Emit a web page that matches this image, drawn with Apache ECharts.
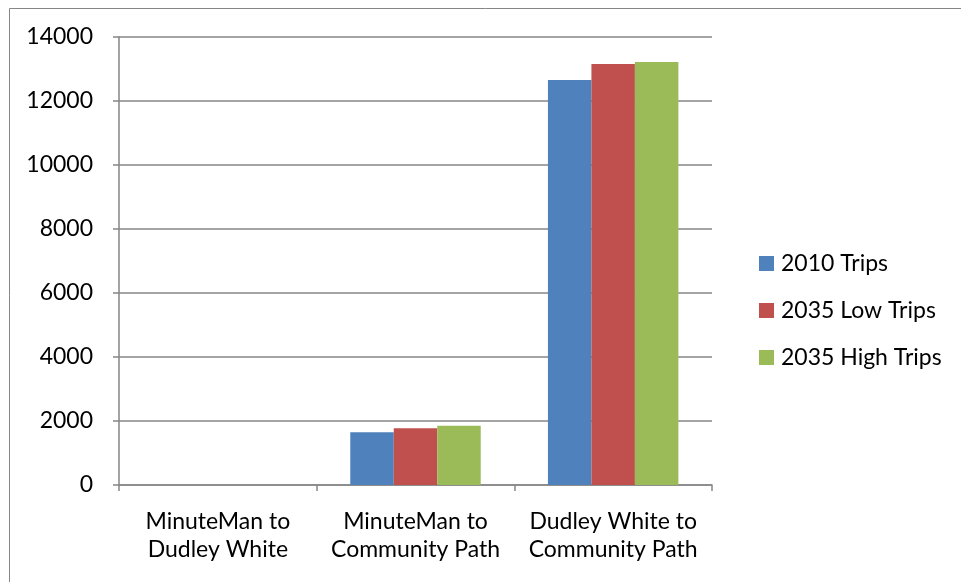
<!DOCTYPE html>
<html>
<head>
<meta charset="utf-8">
<script src="https://cdn.jsdelivr.net/npm/echarts@6/dist/echarts.min.js"></script>
<style>
  html, body { margin: 0; padding: 0; background: #fff; }
  #chart { width: 961px; height: 582px; }
</style>
</head>
<body>
<div id="chart"></div>
<script>
// Trail segments and daily trip counts per scenario
const categories = ['MinuteMan to\nDudley White', 'MinuteMan to\nCommunity Path', 'Dudley White to\nCommunity Path'];
const trips2010 = [0, 1650, 12660];
const trips2035Low = [0, 1775, 13160];
const trips2035High = [0, 1850, 13220];
const yTicks = { min: 0, max: 14000, interval: 2000 };

const font = 'Lato, "Open Sans", sans-serif';
const axisGrey = '#868686';

const chart = echarts.init(document.getElementById('chart'), null, { renderer: 'canvas' });

const barSeries = (name, data, color) => ({
  name,
  type: 'bar',
  data,
  barGap: '0%',
  barCategoryGap: '34%',
  itemStyle: { color },
  emphasis: { disabled: true }
});

chart.setOption({
  animation: false,
  backgroundColor: '#fff',
  textStyle: { fontFamily: font },
  graphic: [{
    type: 'rect',
    silent: true,
    shape: { x: 9.5, y: 8.5, width: 1000, height: 1000 },
    style: { fill: 'none', stroke: axisGrey, lineWidth: 1 }
  }],
  grid: { left: 119, right: 249, top: 37, bottom: 97, containLabel: false },
  legend: {
    orient: 'vertical',
    left: 754,
    top: 247,
    itemWidth: 15,
    itemHeight: 15,
    itemGap: 24,
    icon: 'rect',
    textStyle: { fontFamily: font, fontSize: 23, color: '#000', lineHeight: 23, padding: [0, 0, 0, 2] },
    data: ['2010 Trips', '2035 Low Trips', '2035 High Trips']
  },
  xAxis: {
    type: 'category',
    data: categories,
    axisLine: { lineStyle: { color: axisGrey, width: 1.5 } },
    axisTick: { show: true, length: 6, lineStyle: { color: axisGrey, width: 1.5 } },
    axisLabel: { fontFamily: font, fontSize: 23, color: '#000', lineHeight: 28, margin: 23, interval: 0 }
  },
  yAxis: {
    type: 'value',
    min: yTicks.min,
    max: yTicks.max,
    interval: yTicks.interval,
    axisLine: { show: true, lineStyle: { color: axisGrey, width: 1.5 } },
    axisTick: { show: true, length: 6, lineStyle: { color: axisGrey, width: 1.5 } },
    splitLine: { show: true, lineStyle: { color: axisGrey, width: 1.5 } },
    axisLabel: { fontFamily: font, fontSize: 23, color: '#000', margin: 26, formatter: v => String(v) }
  },
  series: [
    barSeries('2010 Trips', trips2010, '#4f81bd'),
    barSeries('2035 Low Trips', trips2035Low, '#c0504d'),
    barSeries('2035 High Trips', trips2035High, '#9bbb59')
  ]
});
</script>
</body>
</html>
